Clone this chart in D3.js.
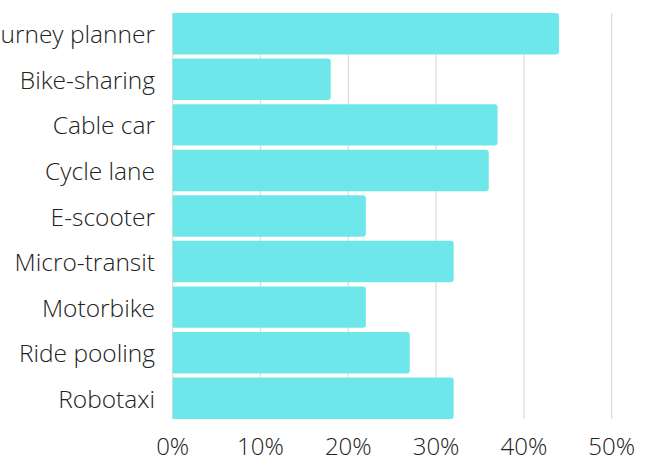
<!DOCTYPE html>
<html><head><meta charset="utf-8">
<script src="https://cdn.jsdelivr.net/npm/d3@7"></script>
<style>
html,body{margin:0;padding:0;background:#fff;}
svg{display:block;}
text{font-family:"Open Sans",sans-serif;font-weight:300;fill:#222;}
</style></head><body>
<svg id="chart" width="653" height="459"></svg>
<script>
const categories = ["Journey planner","Bike-sharing","Cable car","Cycle lane","E-scooter","Micro-transit","Motorbike","Ride pooling","Robotaxi"];
const values = [44, 18, 37, 36, 22, 32, 22, 27, 32];
const tickValues = [0, 10, 20, 30, 40, 50];

const svg = d3.select("#chart");
const x = d3.scaleLinear().domain([0, 50]).range([172.7, 611.7]);
const y = d3.scaleBand().domain(categories).range([13, 419]).paddingInner(0.09).paddingOuter(0);

// grid
svg.append("g").selectAll("line").data(tickValues).join("line")
  .attr("x1", d => x(d)).attr("x2", d => x(d))
  .attr("y1", 13).attr("y2", 419)
  .attr("stroke", "#dcdcdc").attr("stroke-width", 1.2);

// bars
const r = 3;
svg.append("g").selectAll("path").data(categories).join("path")
  .attr("d", (c, i) => {
    const x0 = x(0), x1 = x(values[i]), y0 = y(c), h = y.bandwidth();
    return `M${x0},${y0}H${x1 - r}Q${x1},${y0} ${x1},${y0 + r}V${y0 + h - r}Q${x1},${y0 + h} ${x1 - r},${y0 + h}H${x0}Z`;
  })
  .attr("fill", "#69e6e9").attr("fill-opacity", 0.97);

// y labels
svg.append("g").selectAll("text").data(categories).join("text")
  .attr("x", 155).attr("y", c => y(c) + y.bandwidth() / 2 + 1)
  .attr("dy", "0.35em").attr("text-anchor", "end")
  .attr("font-size", 24.5).text(c => c);

// x labels
svg.append("g").selectAll("text").data(tickValues).join("text")
  .attr("x", d => x(d)).attr("y", 455)
  .attr("text-anchor", "middle").attr("font-size", 24)
  .text(d => d + "%");
</script>
</body></html>
